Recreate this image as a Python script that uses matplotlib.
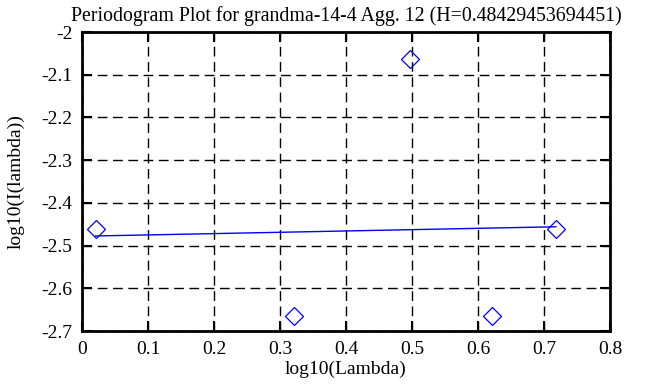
import matplotlib
matplotlib.use("Agg")
import matplotlib.pyplot as plt
from matplotlib.ticker import FixedLocator, FuncFormatter

plt.rcParams['font.family'] = ['Liberation Serif', 'DejaVu Serif']
plt.rcParams['axes.unicode_minus'] = False

title = "Periodogram Plot for grandma-14-4 Agg. 12 (H=0.48429453694451)"
x_label = "log10(Lambda)"
y_label = "log10(I(lambda))"

log_lambda = [0.0207, 0.321, 0.497, 0.621, 0.718]
log_I = [-2.462, -2.666, -2.063, -2.666, -2.461]

fit_x = [0.0207, 0.718]
fit_y = [-2.4775, -2.456]

x_ticks = [0, 0.1, 0.2, 0.3, 0.4, 0.5, 0.6, 0.7, 0.8]
y_ticks = [-2.7, -2.6, -2.5, -2.4, -2.3, -2.2, -2.1, -2.0]

fig = plt.figure(figsize=(6.63, 3.87), dpi=100)
ax = fig.add_axes([0.1237, 0.1447, 0.7963, 0.7726])

ax.plot(fit_x, fit_y, color='#0000ff', linewidth=1.0, zorder=3)
ax.plot(log_lambda, log_I, linestyle='none', marker='D', markersize=9.5,
        markerfacecolor='none', markeredgecolor='#0000ff', markeredgewidth=0.9, zorder=4)

ax.set_xlim(0, 0.8)
ax.set_ylim(-2.7, -2.0)
ax.xaxis.set_major_locator(FixedLocator(x_ticks))
ax.yaxis.set_major_locator(FixedLocator(y_ticks))
ax.xaxis.set_major_formatter(FuncFormatter(lambda v, p: ('%g' % round(v, 3))))
ax.yaxis.set_major_formatter(FuncFormatter(lambda v, p: ('%g' % round(v, 3))))

ax.grid(True, color='black', linestyle=(0, (7, 4)), linewidth=1.0)
ax.tick_params(direction='in', length=7, width=1.5, top=True, right=True,
               labelsize=14, pad=7, colors='black')
for s in ax.spines.values():
    s.set_linewidth(2.0)

ax.set_title(title, fontsize=14.3, pad=8)
ax.set_xlabel(x_label, fontsize=14, labelpad=2)
ax.set_ylabel(y_label, fontsize=14, labelpad=12)

fig.savefig("out.png", dpi=100)
